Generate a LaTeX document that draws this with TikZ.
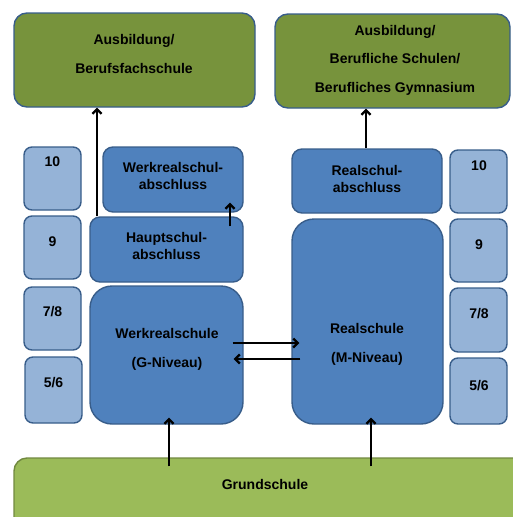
\documentclass[tikz,border=0pt]{standalone}
\usepackage{fontspec}
\setmainfont{Liberation Sans}
\usetikzlibrary{arrows.meta,calc}
\definecolor{topgreen}{RGB}{119,147,60}
\definecolor{lowgreen}{RGB}{155,187,89}
\definecolor{lowline}{RGB}{113,137,63}
\definecolor{midblue}{RGB}{79,129,189}
\definecolor{lightblue}{RGB}{149,179,215}
\definecolor{boxline}{RGB}{56,93,138}
\begin{document}
\begin{tikzpicture}[x=1pt,y=-1pt,
  every node/.style={font=\bfseries\fontsize{14}{17.5}\selectfont,inner sep=0pt},
  box/.style={draw=boxline,line width=1.4pt,rounded corners=#1},
  outbox/.style={box=13pt,fill=topgreen},
  gradebox/.style={box=8pt,fill=lightblue,minimum width=57pt},
  schoolbox/.style={box=10pt,fill=midblue},
  txt/.style={align=center},
  widetxt/.style={align=center,font=\bfseries\fontsize{14}{28.5}\selectfont},
  arr/.style={-{Straight Barb[length=4.5pt,width=9pt]},line width=2.2pt}]
\useasboundingbox (0,0) rectangle (512,517);
\node[outbox,minimum width=241pt,minimum height=94pt] (ausb1) at (134.5,60) {};
\node[outbox,minimum width=235pt,minimum height=94pt] (ausb2) at (392.5,61) {};
\node[box=13pt,draw=lowline,fill=lowgreen,minimum width=530pt,minimum height=90pt] (grund) at (279,503) {};
\node[widetxt] (ausb1t) at (134,54) {Ausbildung/\\Berufsfachschule};
\node[widetxt] (ausb2t) at (395,60) {Ausbildung/\\Berufliche Schulen/\\Berufliches Gymnasium};
\node (grundt) at (265,484) {Grundschule};

\node[gradebox,minimum height=63pt] (l10) at (52.5,178.5) {}; \node (l10t) at (52.5,162) {10};
\node[gradebox,minimum height=63pt] (l9) at (52.5,247.5) {}; \node (l9t) at (52.5,242) {9};
\node[gradebox,minimum height=63pt] (l78) at (52.5,318.5) {}; \node (l78t) at (52.5,312) {7/8};
\node[gradebox,minimum height=66pt] (l56) at (53.5,390) {}; \node (l56t) at (53.5,383) {5/6};
\node[gradebox,minimum height=63pt] (r10) at (478.5,181.5) {}; \node (r10t) at (479,166) {10};
\node[gradebox,minimum height=63pt] (r9) at (478.5,250.5) {}; \node (r9t) at (479,245) {9};
\node[gradebox,minimum height=64pt] (r78) at (478.5,320) {}; \node (r78t) at (479,314) {7/8};
\node[gradebox,minimum height=66pt] (r56) at (478.5,391) {}; \node (r56t) at (479,386) {5/6};

\node[schoolbox,minimum width=140pt,minimum height=65pt] (wrabs) at (173,179.5) {};
\node[txt] (wrabst) at (173,176) {Werkrealschul-\\abschluss};
\node[schoolbox,minimum width=153pt,minimum height=65pt] (haupt) at (166.5,249.5) {};
\node[txt] (hauptt) at (166.5,246) {Hauptschul-\\abschluss};
\node[schoolbox,minimum width=150pt,minimum height=64pt] (rsabs) at (367,181) {};
\node[txt] (rsabst) at (367,179) {Realschul-\\abschluss};
\node[box=22pt,fill=midblue,minimum width=153pt,minimum height=138pt] (werk) at (166.5,355) {};
\node[widetxt] (werkt) at (167,349.5) {Werkrealschule\\(G-Niveau)};
\node[box=22pt,fill=midblue,minimum width=151pt,minimum height=205pt] (real) at (367.5,321.5) {};
\node[widetxt] (realt) at (367,344.5) {Realschule\\(M-Niveau)};

\draw[arr] ($(haupt.north)+(-69.5,0)$) -- ($(ausb1.south)+(-37.5,0)$);
\draw[arr] ($(haupt.north)+(63.5,10)$) -- ($(wrabs.south)+(57,-10)$);
\draw[arr] ($(rsabs.north)+(-1,0)$) -- ($(ausb2.south)+(-26.5,0)$);
\draw[arr] ($(werk.east)+(-11,-12)$) -- ($(real.west |- werk.east)+(8,-12)$);
\draw[arr] ($(real.west |- werk.east)+(9,4)$) -- ($(werk.east)+(-10,4)$);
\draw[arr] ($(werk.south |- grund.north)+(2.5,9)$) -- ($(werk.south)+(2.5,-7)$);
\draw[arr] ($(real.south |- grund.north)+(3.5,9)$) -- ($(real.south)+(3.5,-7)$);
\end{tikzpicture}
\end{document}
